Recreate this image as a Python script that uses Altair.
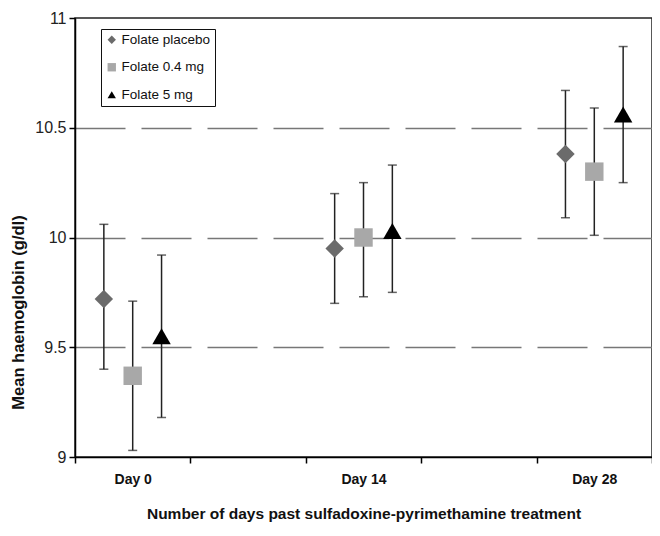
import altair as alt
import pandas as pd

# Category axis: three visits with empty slots between them (as in the original)
x_categories = ["Day 0", " ", "Day 14", "  ", "Day 28"]
days = ["Day 0", "Day 14", "Day 28"]
groups = ["Folate placebo", "Folate 0.4 mg", "Folate 5 mg"]

placebo_mean = [9.72, 9.95, 10.38]
placebo_low = [9.40, 9.70, 10.09]
placebo_high = [10.06, 10.20, 10.67]

mg04_mean = [9.37, 10.00, 10.30]
mg04_low = [9.03, 9.73, 10.01]
mg04_high = [9.71, 10.25, 10.59]

mg5_mean = [9.55, 10.03, 10.56]
mg5_low = [9.18, 9.75, 10.25]
mg5_high = [9.92, 10.33, 10.87]

y_ticks = [9, 9.5, 10, 10.5, 11]

rows = []
for g, m, lo, hi in [
    (groups[0], placebo_mean, placebo_low, placebo_high),
    (groups[1], mg04_mean, mg04_low, mg04_high),
    (groups[2], mg5_mean, mg5_low, mg5_high),
]:
    for d, mv, lv, hv in zip(days, m, lo, hi):
        rows.append({"day": d, "group": g, "mean": mv, "low": lv, "high": hv})
df = pd.DataFrame(rows)

FONT = "Liberation Sans"

x_enc = alt.X(
    "day:N",
    scale=alt.Scale(type="band", domain=x_categories, paddingInner=0, paddingOuter=0),
    axis=alt.Axis(
        title="Number of days past sulfadoxine-pyrimethamine treatment",
        tickBand="extent",
        labelAngle=0,
        tickSize=6,
        tickColor="#000",
        domainColor="#000",
        domainWidth=1.5,
        tickWidth=1.5,
        labelFontWeight="bold",
        labelFontSize=14,
        labelPadding=9,
        labelColor="#111",
        titleFontWeight="bold",
        titleFontSize=15.5,
        titleY=49,
        titleBaseline="top",
        titleColor="#111",
        grid=False,
    ),
)
xoff_enc = alt.XOffset(
    "group:N",
    scale=alt.Scale(type="band", domain=groups, paddingInner=0, paddingOuter=0.5),
)

y_scale = alt.Scale(domain=[9, 11], nice=False, zero=False)

base = alt.Chart(df)

rules = base.mark_rule(color="#222", strokeWidth=1.5).encode(
    x=x_enc,
    xOffset=xoff_enc,
    y=alt.Y("low:Q", scale=y_scale),
    y2="high:Q",
)
caps_low = base.mark_tick(color="#222", size=9, thickness=1.5, orient="horizontal").encode(
    x=x_enc, xOffset=xoff_enc, y=alt.Y("low:Q", scale=y_scale)
)
caps_high = base.mark_tick(color="#222", size=9, thickness=1.5, orient="horizontal").encode(
    x=x_enc, xOffset=xoff_enc, y=alt.Y("high:Q", scale=y_scale)
)

legend_cfg = dict(
    title=None,
    orient="none",
    legendX=26,
    legendY=11,
    strokeColor="#111",
    fillColor="white",
    padding=4,
    symbolSize=70,
    labelFontSize=13.5,
    labelFont=FONT,
    labelColor="#111",
    rowPadding=12.5,
    labelOffset=3,
)

points = base.mark_point(filled=True, opacity=1, size=340).encode(
    x=x_enc,
    xOffset=xoff_enc,
    y=alt.Y(
        "mean:Q",
        scale=y_scale,
        axis=alt.Axis(
            title="Mean haemoglobin (g/dl)",
            values=y_ticks,
            format="~g",
            tickSize=6,
            tickColor="#000",
            tickWidth=1.5,
            domainColor="#000",
            domainWidth=1.5,
            labelFontSize=16,
            labelPadding=3,
            labelColor="#222",
            titleFontWeight="bold",
            titleFontSize=16.5,
            titleX=-49,
            titleY=294,
            titleBaseline="bottom",
            titleColor="#111",
            grid=True,
            gridDash=[50, 16],
            gridColor="#777",
            gridWidth=1.5,
            gridOpacity={
                "condition": {"test": "datum.value == 9 || datum.value == 11", "value": 0},
                "value": 1,
            },
        ),
    ),
    shape=alt.Shape(
        "group:N",
        scale=alt.Scale(domain=groups, range=["diamond", "square", "triangle-up"]),
        legend=alt.Legend(**legend_cfg),
    ),
    color=alt.Color(
        "group:N",
        scale=alt.Scale(domain=groups, range=["#6b6b6b", "#a8a8a8", "#000000"]),
        legend=alt.Legend(**legend_cfg),
    ),
)

chart = (
    alt.layer(rules, caps_low, caps_high, points)
    .properties(
        width=577,
        height=439,
        autosize=alt.AutoSizeParams(type="none"),
        padding={"left": 67, "top": 10, "right": 0, "bottom": 66},
    )
    .configure(font=FONT)
    .configure_view(stroke="#222", strokeWidth=1.5)
)

chart.save("out.html", embed_options={"renderer": "svg", "actions": False})
